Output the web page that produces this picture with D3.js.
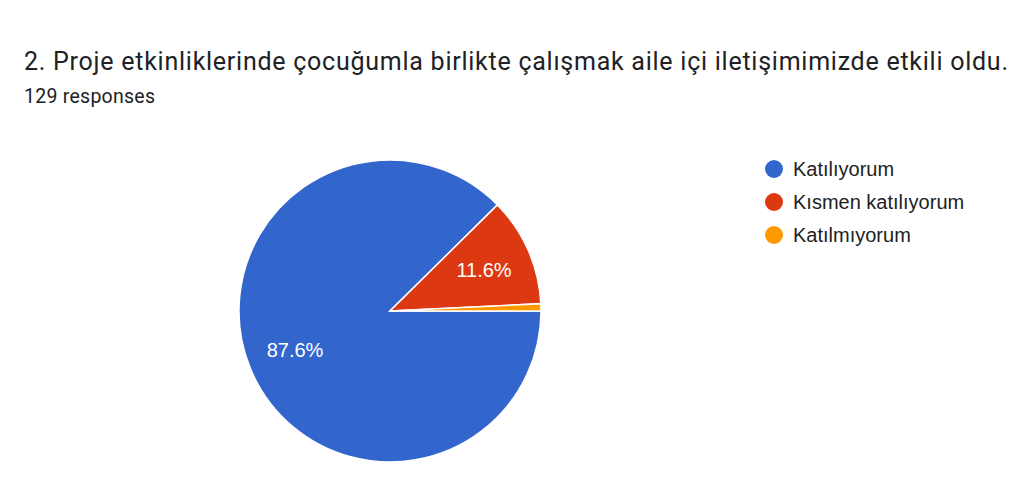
<!DOCTYPE html>
<html>
<head>
<meta charset="utf-8">
<script src="https://cdn.jsdelivr.net/npm/d3@7"></script>
<style>
  body { margin: 0; background: #fff; }
  svg { display: block; }
</style>
</head>
<body>
<svg id="chart"></svg>
<script>
// survey answers
var categories = ['Katılıyorum', 'Kısmen katılıyorum', 'Katılmıyorum']
var counts = [113, 15, 1]
var colors = ['#3366cc', '#dc3912', '#ff9900']
var title = '2. Proje etkinliklerinde çocuğumla birlikte çalışmak aile içi iletişimimizde etkili oldu.'
var subtitle = '129 responses'

var width = 1024, height = 496
var cx = 390, cy = 311, radius = 151

var svg = d3.select('#chart')
    .attr('width', width)
    .attr('height', height)

svg.append('text')
    .attr('x', 24)
    .attr('y', 70)
    .attr('font-family', 'Roboto, sans-serif')
    .attr('font-size', 25)
    .attr('fill', '#202124')
    .attr('textLength', 984)
    .attr('lengthAdjust', 'spacing')
    .text(title)

svg.append('text')
    .attr('x', 24)
    .attr('y', 103)
    .attr('font-family', 'Roboto, sans-serif')
    .attr('font-size', 19.5)
    .attr('fill', '#202124')
    .attr('textLength', 131)
    .attr('lengthAdjust', 'spacing')
    .text(subtitle)

var total = d3.sum(counts)
var data = categories.map(function (c, i) { return {name: c, count: counts[i], color: colors[i]} })

// slices start at 3 o'clock and run clockwise
var pie = d3.pie()
    .sort(null)
    .value(function (d) { return d.count })
    .startAngle(Math.PI / 2)
    .endAngle(Math.PI / 2 + 2 * Math.PI)

var arc = d3.arc().innerRadius(0).outerRadius(radius)
var labelArc = d3.arc().innerRadius(radius * 0.68).outerRadius(radius * 0.68)

var g = svg.append('g')
    .attr('transform', 'translate(' + cx + ',' + cy + ')')

var arcs = pie(data)

g.selectAll('.slice')
    .data(arcs)
  .enter().append('path')
    .attr('class', 'slice')
    .attr('d', arc)
    .attr('fill', function (d) { return d.data.color })
    .attr('stroke', '#fff')
    .attr('stroke-width', 1.5)

g.selectAll('.slice-label')
    .data(arcs.filter(function (d) { return d.data.count / total > 0.05 }))
  .enter().append('text')
    .attr('class', 'slice-label')
    .attr('transform', function (d) { return 'translate(' + labelArc.centroid(d) + ')' })
    .attr('text-anchor', 'middle')
    .attr('dy', '0.35em')
    .attr('font-family', 'Arial, "Liberation Sans", sans-serif')
    .attr('font-size', 20)
    .attr('fill', '#fff')
    .text(function (d) { return d3.format('.1%')(d.data.count / total) })

// legend
var legend = svg.append('g')
    .attr('transform', 'translate(774,169)')

var item = legend.selectAll('.item')
    .data(data)
  .enter().append('g')
    .attr('class', 'item')
    .attr('transform', function (d, i) { return 'translate(0,' + i * 33 + ')' })

item.append('circle')
    .attr('r', 9)
    .attr('fill', function (d) { return d.color })

item.append('text')
    .attr('x', 19)
    .attr('dy', '0.35em')
    .attr('font-family', 'Arial, "Liberation Sans", sans-serif')
    .attr('font-size', 20)
    .attr('fill', '#222')
    .text(function (d) { return d.name })
</script>
</body>
</html>
